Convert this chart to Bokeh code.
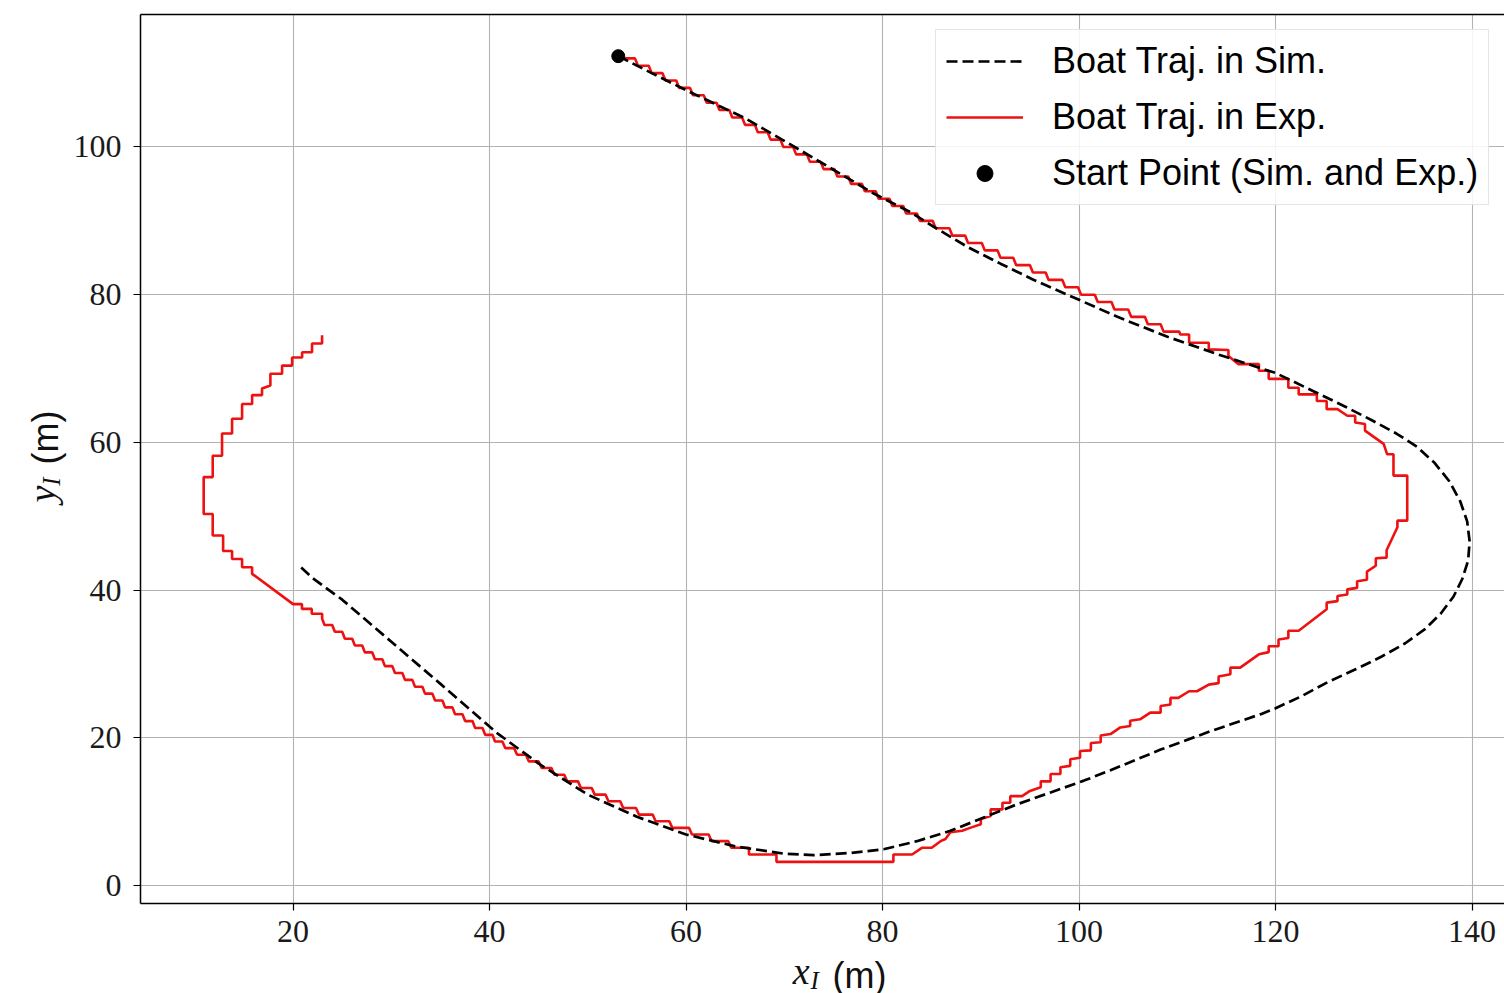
from bokeh.plotting import figure
from bokeh.layouts import row, column
from bokeh.models import Range1d, FixedTicker, Legend, LegendItem, LinearAxis
from bokeh.core.properties import value
from bokeh.embed import file_html
from bokeh.resources import INLINE
import math

# ---- data -------------------------------------------------------------
# Simulated boat trajectory (m)
sim_x = [53.1, 56.5, 60.0, 63.0, 66.0, 69.9, 74.0, 79.1, 82.8, 85.2, 88.6, 92.0,
         95.4, 100.0, 103.9, 109.0, 114.4, 120.0, 123.9, 127.0, 129.8, 132.3,
         134.4, 136.2, 137.7, 138.8, 139.5, 139.75, 139.6, 139.0, 138.1, 136.8,
         135.2, 133.2, 130.8, 128.2, 125.4, 122.6, 120.0, 118.5, 113.4, 108.3,
         103.2, 100.5, 97.1, 93.7, 90.3, 86.9, 83.5, 80.1, 76.7, 73.0, 70.0,
         65.0, 60.0, 55.0, 50.0, 45.0, 40.8, 35.0, 30.0, 25.0, 22.0, 20.7]
sim_y = [112.3, 110.0, 107.7, 105.8, 103.9, 100.9, 97.7, 93.7, 91.2, 89.2, 86.5,
         84.2, 82.0, 79.3, 77.0, 74.3, 71.8, 69.4, 66.9, 64.9, 63.0, 61.2, 59.4,
         57.2, 54.7, 52.0, 49.3, 46.6, 44.0, 41.5, 39.1, 36.8, 34.7, 32.8, 31.0,
         29.3, 27.6, 25.6, 24.0, 23.2, 20.9, 18.4, 15.6, 14.2, 12.6, 11.0, 9.2,
         7.4, 6.0, 4.9, 4.4, 4.1, 4.3, 5.3, 6.9, 9.3, 12.3, 16.5, 20.6, 27.3,
         33.0, 38.7, 41.6, 43.2]

# Experimental (GPS) trajectory, vertices of the recorded track (m)
exp_outbound = [
    (53.65, 112.0), (54.8, 112.0), (55.1, 111.0), (56.2, 111.0), (56.5, 110.0),
    (57.6, 110.0), (57.9, 109.0), (59.0, 109.0), (59.3, 108.0), (60.4, 108.0),
    (60.7, 107.0), (61.8, 107.0), (62.1, 106.0), (63.1, 106.0), (63.4, 105.0),
    (64.4, 105.0), (64.7, 104.0), (65.7, 104.0), (66.0, 103.0), (67.0, 103.0),
    (67.3, 102.0), (68.3, 102.0), (68.6, 101.0), (69.6, 101.0), (69.9, 100.0),
    (70.9, 100.0), (71.2, 99.0), (72.3, 99.0), (72.6, 98.0), (73.7, 98.0),
    (74.0, 97.0), (75.1, 97.0), (75.4, 96.0), (76.5, 96.0), (76.8, 95.0),
    (77.9, 95.0), (78.2, 94.0), (79.3, 94.0), (79.6, 93.0), (80.7, 93.0),
    (81.0, 92.0), (82.1, 92.0), (82.4, 91.0), (83.5, 91.0), (83.8, 90.0),
    (85.1, 90.0), (85.4, 89.0), (86.8, 89.0), (87.1, 88.0), (88.4, 88.0),
    (88.7, 87.0), (90.1, 87.0), (90.4, 86.0), (91.7, 86.0), (92.0, 85.0),
    (93.3, 85.0), (93.6, 84.0), (95.0, 84.0), (95.3, 83.0), (96.6, 83.0),
    (96.9, 82.0), (98.3, 82.0), (98.6, 81.0), (99.9, 81.0), (100.2, 80.0),
    (101.6, 80.0), (101.9, 79.0), (103.3, 79.0), (103.6, 78.0), (105.0, 78.0),
    (105.3, 77.0), (106.7, 77.0), (107.0, 76.0), (108.3, 76.0), (108.6, 75.0),
    (110.2, 75.0), (110.3, 74.6), (111.2, 74.6), (111.2, 73.5), (113.2, 73.5),
    (113.2, 72.6), (115.2, 72.5), (115.2, 71.7), (116.2, 70.6), (118.3, 70.6),
    (118.3, 69.7), (119.3, 69.7), (119.3, 68.6), (121.3, 68.6), (121.3, 67.4),
    (122.35, 67.4), (122.35, 66.5), (124.2, 66.5), (124.2, 65.6), (125.2, 65.6),
    (125.2, 64.5), (126.3, 64.5), (127.3, 63.6), (128.1, 63.6), (128.1, 62.7),
    (129.1, 62.5), (129.1, 61.6),
]
exp_turn = [
    (131.0, 59.8), (131.35, 58.4), (132.0, 58.4), (132.0, 55.5), (133.4, 55.5),
    (133.4, 49.4), (132.4, 49.4), (132.4, 48.5), (131.3, 45.4), (131.3, 44.4),
    (130.2, 44.3), (130.2, 43.3), (129.3, 42.5), (129.3, 41.4), (128.3, 41.2),
    (128.3, 40.3), (127.3, 40.1), (127.3, 39.4), (126.3, 39.2), (126.3, 38.5),
    (125.2, 38.3), (125.2, 37.4),
]
exp_return = [
    (122.35, 34.5), (121.3, 34.5), (121.3, 33.5), (120.3, 33.3), (120.3, 32.4),
    (119.3, 32.4), (119.3, 31.6), (118.3, 31.3), (116.4, 29.5), (115.4, 29.5),
    (115.4, 28.6), (114.2, 28.3), (114.2, 27.4), (113.2, 27.2), (112.0, 26.3),
    (111.2, 26.3), (110.1, 25.4), (109.3, 25.4), (109.3, 24.5), (108.3, 24.3),
    (108.3, 23.4), (107.25, 23.4), (106.2, 22.5), (105.2, 22.3), (105.2, 21.6),
    (104.2, 21.4), (103.2, 20.5), (102.2, 20.3), (102.2, 19.4), (101.2, 19.3),
    (101.2, 18.3), (100.1, 18.2), (100.1, 17.3), (99.1, 17.1), (99.1, 16.2),
    (98.1, 16.0), (98.1, 15.1), (97.1, 15.1), (97.1, 14.1), (96.1, 14.1),
    (96.1, 13.3), (95.0, 12.8), (94.2, 12.1), (93.0, 12.1), (93.0, 11.2),
    (92.2, 11.2), (92.2, 10.3), (91.0, 10.3), (91.0, 9.4), (90.0, 9.0),
    (90.0, 8.3), (88.9, 7.8), (88.1, 7.4), (86.9, 7.2), (86.4, 6.3),
    (85.9, 6.0), (85.0, 5.1), (84.0, 5.1), (83.0, 4.2), (81.1, 4.2),
    (81.1, 3.2), (69.2, 3.2), (69.2, 4.2), (66.4, 4.2), (66.4, 5.1),
    (64.6, 5.1), (64.3, 6.0), (62.6, 6.0), (62.3, 6.9), (60.6, 6.9),
    (60.3, 7.8), (58.6, 7.8), (58.3, 8.7), (56.9, 8.7), (56.6, 9.6),
    (55.2, 9.6), (54.9, 10.5), (53.6, 10.5), (53.3, 11.4), (52.1, 11.4),
    (51.8, 12.3), (50.7, 12.3), (50.4, 13.2), (49.3, 13.2), (49.0, 14.1),
    (47.9, 14.1), (47.6, 15.0), (46.6, 15.0), (46.3, 15.9), (45.3, 15.9),
    (45.0, 16.8), (44.0, 16.8), (43.7, 17.7), (42.8, 17.7), (42.5, 18.6),
    (41.6, 18.6), (41.3, 19.5), (40.55, 19.5), (40.3, 20.4), (39.55, 20.4),
    (39.28, 21.33), (38.53, 21.33), (38.26, 22.26), (37.51, 22.26),
    (37.24, 23.19), (36.49, 23.19), (36.22, 24.12), (35.47, 24.12),
    (35.2, 25.05), (34.45, 25.05), (34.18, 25.98), (33.43, 25.98),
    (33.16, 26.91), (32.41, 26.91), (32.14, 27.84), (31.39, 27.84),
    (31.12, 28.77), (30.37, 28.77), (30.1, 29.7), (29.35, 29.7),
    (29.08, 30.63), (28.33, 30.63), (28.06, 31.56), (27.31, 31.56),
    (27.04, 32.49), (26.29, 32.49), (26.02, 33.42), (25.27, 33.42),
    (25.0, 34.35), (24.25, 34.35), (23.98, 35.28), (23.2, 35.28),
    (22.96, 36.1), (22.96, 36.8), (21.9, 36.8), (21.9, 37.45), (20.9, 37.45),
    (20.9, 38.1), (20.0, 38.1),
]
exp_loop = [
    (15.83, 42.2), (15.83, 43.1), (14.81, 43.1), (14.81, 44.2), (13.79, 44.2),
    (13.79, 45.3), (12.88, 45.3), (12.88, 47.4), (11.82, 47.4), (11.82, 50.3),
    (10.9, 50.3), (10.9, 55.3), (11.82, 55.3), (11.82, 58.2), (12.77, 58.2),
    (12.77, 61.2), (13.79, 61.2), (13.79, 63.2), (14.81, 63.2), (14.81, 65.2),
    (15.83, 65.2), (15.83, 66.4), (16.84, 66.4), (16.84, 67.3), (17.69, 67.7),
    (17.69, 69.3), (18.88, 69.3), (18.88, 70.4), (19.9, 70.4), (19.9, 71.5),
    (20.92, 71.5), (20.92, 72.2), (21.93, 72.2), (21.93, 73.4), (22.95, 73.4),
    (22.95, 74.5),
]

# Common start point of both runs
start_x = [53.1]
start_y = [112.3]

# Axis ticks
x_ticks = [20, 40, 60, 80, 100, 120, 140]
y_ticks = [0, 20, 40, 60, 80, 100]

exp_pts = exp_outbound + exp_turn + exp_return + exp_loop
exp_x = [pt[0] for pt in exp_pts]
exp_y = [pt[1] for pt in exp_pts]

# ---- main plot ---------------------------------------------------------
p = figure(width=1434, height=960, output_backend="svg", toolbar_location=None,
           x_range=Range1d(4.47, 143.3), y_range=Range1d(-2.44, 117.94),
           min_border_left=70, min_border_right=0, min_border_top=14,
           min_border_bottom=57)
p.outline_line_color = None
p.background_fill_color = "white"
p.border_fill_color = "white"

for ax, ticks in ((p.xaxis[0], x_ticks), (p.yaxis[0], y_ticks)):
    ax.ticker = FixedTicker(ticks=ticks)
    ax.minor_tick_line_color = None
    ax.major_tick_out = 7
    ax.major_tick_in = 0
    ax.major_tick_line_width = 1.2
    ax.major_tick_line_color = "black"
    ax.axis_line_width = 1.5
    ax.axis_line_color = "black"
    ax.major_label_text_font = "Liberation Serif"
    ax.major_label_text_font_size = "32px"
    ax.major_label_text_color = "#1a1a1a"
    ax.axis_label = None
p.xaxis.major_label_standoff = 10
p.yaxis.major_label_standoff = 12

# top edge of the frame
top = LinearAxis(ticker=FixedTicker(ticks=[]), axis_line_width=1.5,
                 axis_line_color="black", major_tick_out=0, major_tick_in=0,
                 minor_tick_out=0, minor_tick_in=0,
                 major_label_text_font_size="0px", major_label_standoff=0)
p.add_layout(top, "above")

for g, ticks in ((p.xgrid[0], x_ticks), (p.ygrid[0], y_ticks)):
    g.ticker = FixedTicker(ticks=ticks)
    g.grid_line_color = "#b3b3b3"
    g.grid_line_width = 1.1

r_exp = p.line(exp_x, exp_y, line_color="#ee1111", line_width=2.6)
r_sim = p.line(sim_x, sim_y, line_color="black", line_width=2.7, line_dash="11 5")
r_start = p.scatter(start_x, start_y, size=13, marker="circle",
                    fill_color="black", line_color="black")

legend = Legend(items=[
    LegendItem(label="Boat Traj. in Sim.", renderers=[r_sim]),
    LegendItem(label="Boat Traj. in Exp.", renderers=[r_exp]),
    LegendItem(label="Start Point (Sim. and Exp.)", renderers=[r_start]),
], location=(795, 698))
legend.label_text_font = "Liberation Sans"
legend.label_text_font_size = "36px"
legend.label_text_color = "black"
legend.glyph_width = 77
legend.glyph_height = 40
legend.label_height = 40
legend.label_standoff = 29
legend.spacing = 14
legend.padding = 10
legend.margin = 0
legend.border_line_color = "#cccccc"
legend.border_line_width = 1.2
legend.background_fill_alpha = 0.85
p.add_layout(legend)


def label_strip(width, height):
    f = figure(width=width, height=height, output_backend="svg", toolbar_location=None,
               x_range=Range1d(0, width), y_range=Range1d(0, height),
               min_border=0, x_axis_location=None, y_axis_location=None)
    f.outline_line_color = None
    f.grid.grid_line_color = None
    f.background_fill_color = "white"
    f.border_fill_color = "white"
    return f


def put(f, x, y, text, font, size, style, align, angle=0.0):
    f.text(x=[x], y=[y], text=[text], text_font=value(font), text_font_size=size,
           text_font_style=style, text_align=align, text_baseline="middle",
           angle=angle, text_color="#111111")


# y axis title: y_I (m), read bottom to top
yl = label_strip(70, 960)
put(yl, 41, 433, "y", "Liberation Serif", "38px", "italic", "left", math.pi / 2)
put(yl, 51, 451, "I", "Liberation Serif", "25px", "italic", "left", math.pi / 2)
put(yl, 45, 474, "(m)", "Liberation Sans", "36px", "normal", "left", math.pi / 2)

# x axis title: x_I (m)
xl = label_strip(1504, 33)
put(xl, 809, 23, "x", "Liberation Serif", "38px", "italic", "right")
put(xl, 810, 13, "I", "Liberation Serif", "25px", "italic", "left")
put(xl, 832, 18, "(m)", "Liberation Sans", "36px", "normal", "left")

layout = column(row(yl, p, spacing=0), xl, spacing=0)
open("out.html", "w").write(file_html(layout, INLINE))
